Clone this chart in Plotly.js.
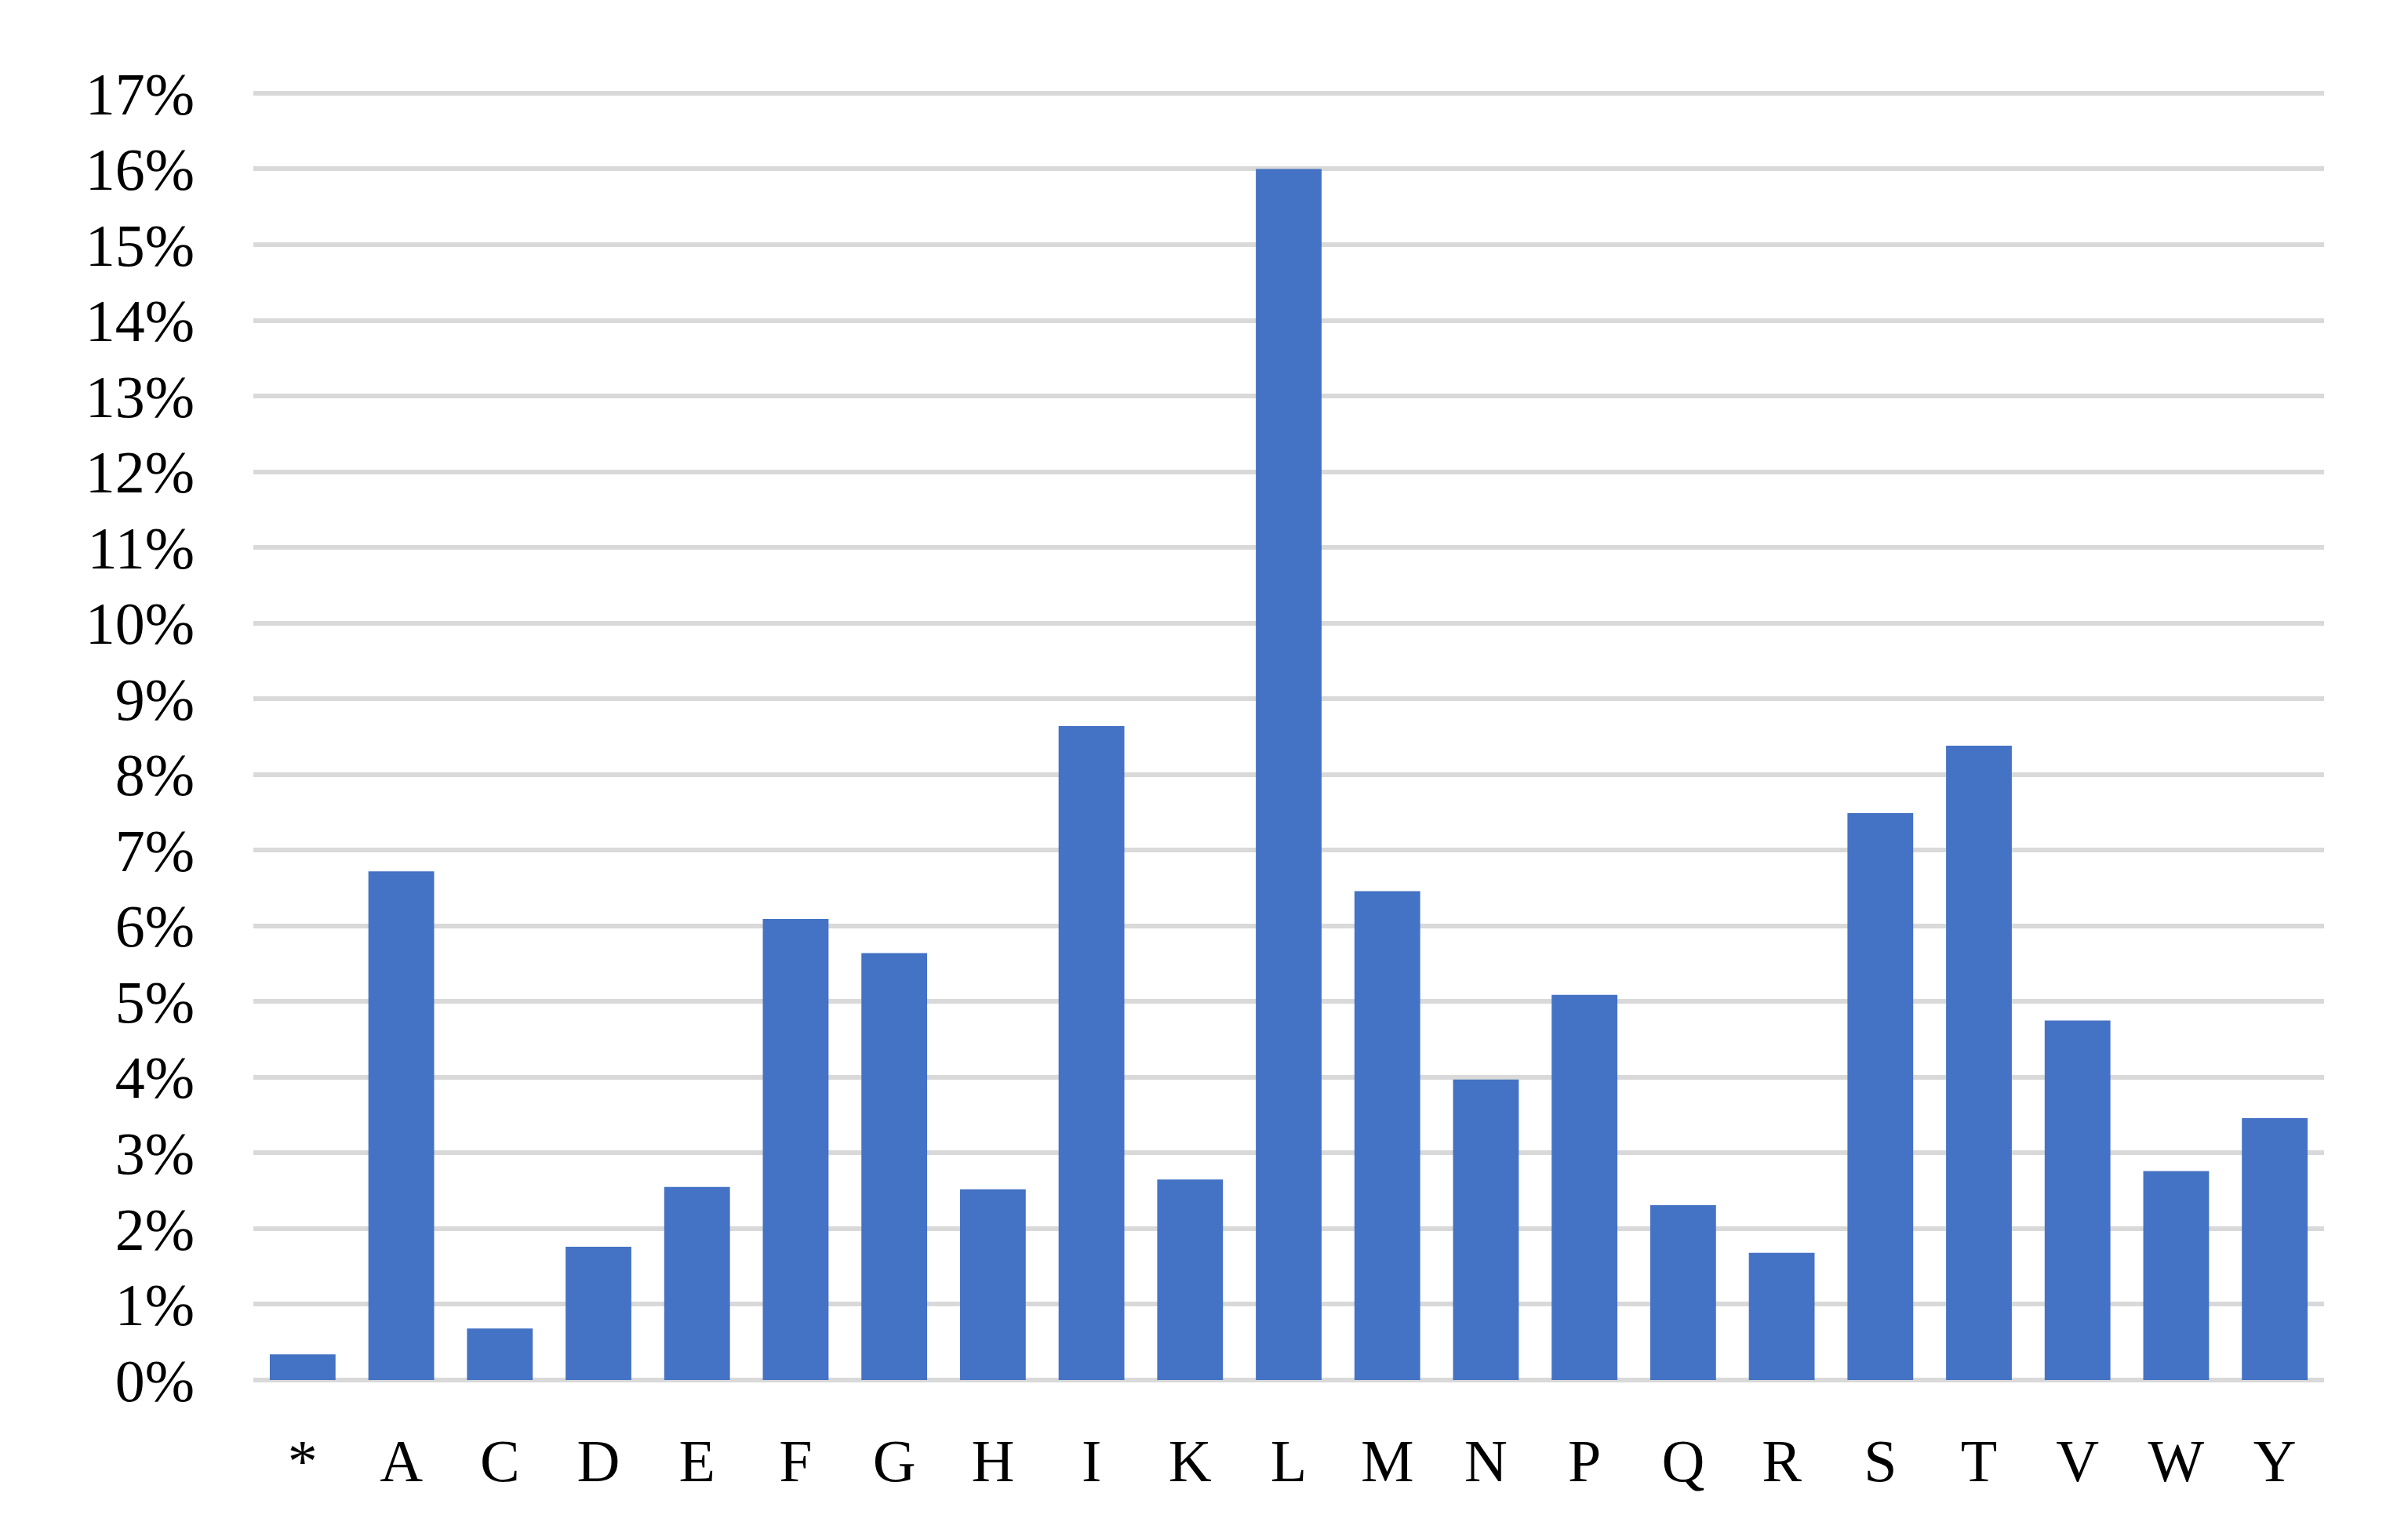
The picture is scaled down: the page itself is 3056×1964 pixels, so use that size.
<!DOCTYPE html>
<html>
<head>
<meta charset="utf-8">
<script src="https://cdn.plot.ly/plotly-3.0.1.min.js"></script>
<style>
  body { margin: 0; background: #fff; }
  #plotDiv { width: 3056px; height: 1964px; }
</style>
</head>
<body>
<div id="plotDiv"></div>
<script>
// amino acid letters (x axis)
let residues = ["*", "A", "C", "D", "E", "F", "G", "H", "I", "K", "L",
                "M", "N", "P", "Q", "R", "S", "T", "V", "W", "Y"];

// frequency of each residue, as fractions
let freqs = [0.0034, 0.0672, 0.0068, 0.0176, 0.0255, 0.0609, 0.0564, 0.0252,
             0.0864, 0.0265, 0.1600, 0.0646, 0.0397, 0.0509, 0.0231, 0.0168,
             0.0749, 0.0838, 0.0475, 0.0276, 0.0346];

let yTicks = [0, 0.01, 0.02, 0.03, 0.04, 0.05, 0.06, 0.07, 0.08,
              0.09, 0.10, 0.11, 0.12, 0.13, 0.14, 0.15, 0.16, 0.17];

let data = [
  {
    x: residues,
    y: freqs,
    type: "bar",
    marker: { color: "#4472C4" },
    hoverinfo: "x+y"
  }
];

let layout = {
  width: 3056,
  height: 1964,
  paper_bgcolor: "#ffffff",
  plot_bgcolor: "#ffffff",
  margin: { l: 323, r: 93, t: 117, b: 204 },
  bargap: 1 / 3,
  showlegend: false,
  font: { family: "Liberation Serif, serif", size: 76, color: "#000000" },
  xaxis: {
    type: "category",
    showgrid: false,
    showline: false,
    zeroline: false,
    ticks: "",
    ticklabelstandoff: 52,
    tickfont: { family: "Liberation Serif, serif", size: 76, color: "#000000" }
  },
  yaxis: {
    range: [0, 0.1702], // a hair above 17% so the top gridline is drawn
    tickvals: yTicks,
    tickformat: ".0%",
    showgrid: true,
    gridcolor: "#d9d9d9",
    gridwidth: 6,
    zeroline: true,
    zerolinecolor: "#d9d9d9",
    zerolinewidth: 6,
    showline: false,
    ticks: "",
    ticklabelstandoff: 74,
    tickfont: { family: "Liberation Serif, serif", size: 76, color: "#000000" }
  }
};

Plotly.newPlot("plotDiv", data, layout, { displayModeBar: false, staticPlot: true });
</script>
</body>
</html>
